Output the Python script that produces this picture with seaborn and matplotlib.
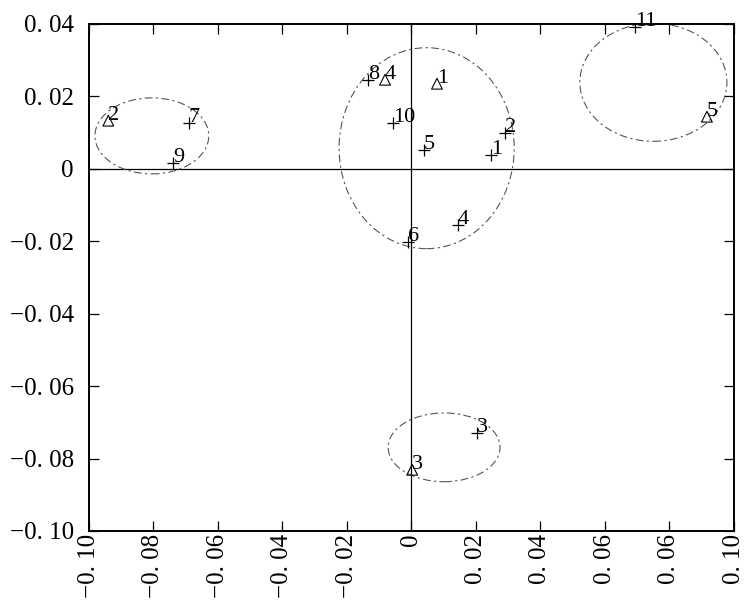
import matplotlib
matplotlib.use("Agg")
import matplotlib.pyplot as plt
from matplotlib import font_manager
from matplotlib.patches import Ellipse
import seaborn as sns
import pandas as pd

# "+" group
plus_labels = ["1", "2", "3", "4", "5", "6", "7", "8", "9", "10", "11"]
plus_x = [0.0246, 0.0290, 0.0203, 0.0144, 0.0039, -0.0011, -0.0690, -0.0135, -0.0740, -0.0057, 0.0693]
plus_y = [0.0039, 0.0100, -0.0729, -0.0155, 0.0052, -0.0202, 0.0127, 0.0246, 0.0017, 0.0127, 0.0392]

# triangle group
tri_labels = ["1", "2", "3", "4", "5"]
tri_x = [0.0079, -0.0940, 0.0002, -0.0082, 0.0916]
tri_y = [0.0235, 0.0133, -0.0831, 0.0246, 0.0144]

# cluster ellipses
ell_cx = [-0.0805, 0.0047, 0.0750, 0.0101]
ell_cy = [0.0091, 0.0057, 0.0239, -0.0769]
ell_w = [0.0353, 0.0543, 0.0456, 0.0347]
ell_h = [0.0210, 0.0555, 0.0326, 0.0190]

xticks = [-0.10, -0.08, -0.06, -0.04, -0.02, 0, 0.02, 0.04, 0.06, 0.08, 0.10]
xticklabels = ["−0. 10", "−0. 08", "−0. 06", "−0. 04", "−0. 02", "0",
               "0. 02", "0. 04", "0. 06", "0. 06", "0. 10"]
yticks = [-0.10, -0.08, -0.06, -0.04, -0.02, 0, 0.02, 0.04]
yticklabels = ["−0. 10", "−0. 08", "−0. 06", "−0. 04", "−0. 02", "0", "0. 02", "0. 04"]

plus_df = pd.DataFrame({"x": plus_x, "y": plus_y, "lab": plus_labels})
tri_df = pd.DataFrame({"x": tri_x, "y": tri_y, "lab": tri_labels})

sns.set_style("ticks")

# look for Liberation Serif on disk
serif_file = None
for path in font_manager.findSystemFonts():
    if "liberationserif-regular" in path.lower().replace("_", "-"):
        serif_file = path
        break

if serif_file:
    tick_fp = font_manager.FontProperties(fname=serif_file, size=18)
    lab_fp = font_manager.FontProperties(fname=serif_file, size=16)
else:
    tick_fp = font_manager.FontProperties(family="serif", size=16)
    lab_fp = font_manager.FontProperties(family="serif", size=14)

fig = plt.figure(figsize=(7.47, 6.04), dpi=100)
ax = fig.add_axes([0.1191, 0.1209, 0.8635, 0.8394])

ax.axhline(0, color="black", lw=0.9, zorder=1)
ax.axvline(0, color="black", lw=0.9, zorder=1)

for cx, cy, w, h in zip(ell_cx, ell_cy, ell_w, ell_h):
    ax.add_patch(Ellipse((cx, cy), w, h, fill=False, edgecolor="#555555",
                         lw=0.8, linestyle=(0, (7, 3, 2, 3)), zorder=2))

sns.scatterplot(data=plus_df, x="x", y="y", marker="+", s=70, color="black",
                linewidth=0.9, ax=ax, zorder=3)
sns.scatterplot(data=tri_df, x="x", y="y", marker="^", s=60, facecolor="none",
                edgecolor="black", linewidth=0.8, ax=ax, zorder=3)

for df in (plus_df, tri_df):
    for _, r in df.iterrows():
        ax.annotate(r["lab"], (r["x"], r["y"]), xytext=(0, -3),
                    textcoords="offset points", ha="left", va="bottom",
                    fontproperties=lab_fp, color="black")

ax.set_xlim(-0.10, 0.10)
ax.set_ylim(-0.10, 0.04)
ax.set_xticks(xticks)
ax.set_xticklabels(xticklabels, rotation=90, fontproperties=tick_fp)
ax.set_yticks(yticks)
ax.set_yticklabels(yticklabels, fontproperties=tick_fp)
ax.tick_params(direction="in", length=7, width=0.9, top=True, right=True,
               color="black", labelcolor="black")
ax.tick_params(axis="x", pad=2)
ax.tick_params(axis="y", pad=11)
for sp in ax.spines.values():
    sp.set_visible(True)
    sp.set_color("black")
    sp.set_linewidth(1.4)
ax.set_xlabel("")
ax.set_ylabel("")

fig.savefig("out.png", dpi=100)
